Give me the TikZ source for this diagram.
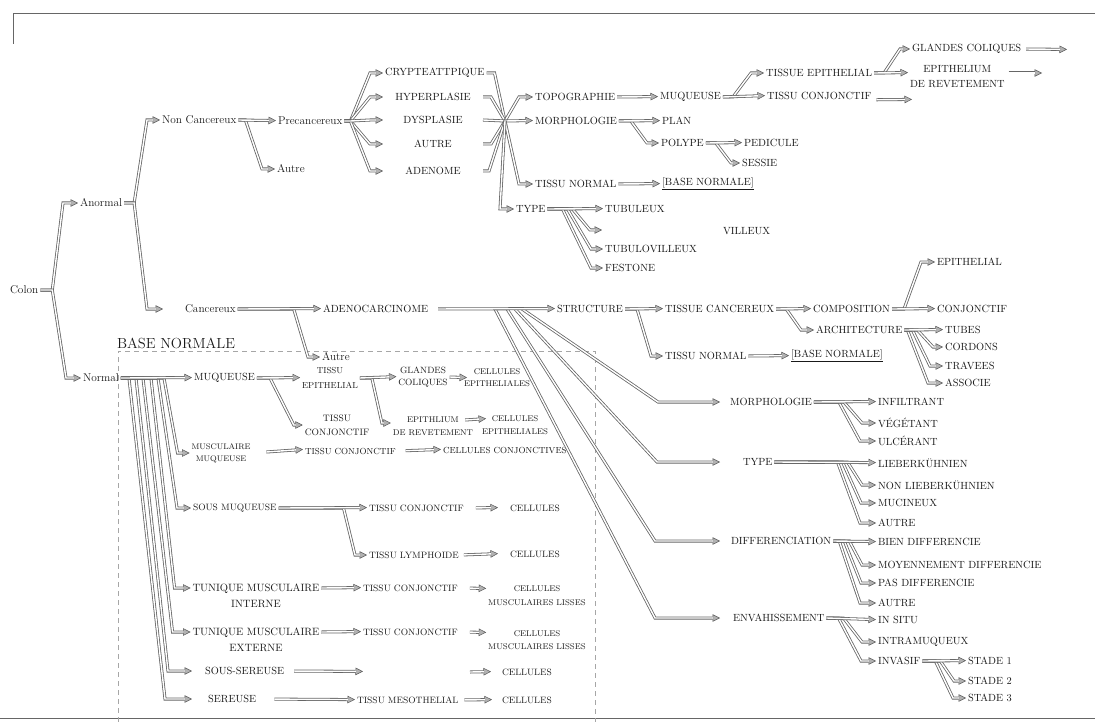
\documentclass[tikz,border=0pt]{standalone}
\usepackage{fontspec}
\usetikzlibrary{arrows.meta}
\newcommand{\myfan}[4]{\draw[dbl] (#1.east) -- ++(#3,0) -- ([xshift=-#4pt]#2.west) -- (#2.west);}
\newcommand{\mystr}[2]{\draw[dbl] (#1.east) -- ([yshift=0.4pt]#2.west);}
\tikzset{
  dbl/.style={draw=black!60, line width=3pt, line join=miter,
    -{Triangle[length=7.5pt,width=7.5pt,fill=black!30,color=black!65,line width=0.5pt]},
    postaction={draw=white, line width=1.4pt, -, shorten >=7pt}},
  dbn/.style={draw=black!60, line width=3pt, postaction={draw=white, line width=1.4pt}},
  L/.style={font=\fontsize{11.3}{13}\selectfont},
  C/.style={font=\fontsize{10.4}{15}\selectfont},
  S/.style={font=\fontsize{9.2}{13}\selectfont},
  XS/.style={font=\fontsize{8.3}{13}\selectfont},
}
\begin{document}
\begin{tikzpicture}[x=1pt,y=-1pt,
  every node/.style={inner sep=2pt,outer sep=0pt,anchor=west,text=black!90}]
\useasboundingbox (0,0) rectangle (1095,722);
% frame
\draw[black!60, line width=0.9pt] (13,44) -- (13,13) -- (1095,13);
\draw[black!60, line width=0.9pt] (0,718) -- (1095,718);
\draw[black!35, dash pattern=on 5pt off 4pt, line width=0.7pt] (118,722) -- (118,351) -- (595,351) -- (595,722);
\node[font=\fontsize{14.6}{16}\selectfont] (bntitle) at (115,343) {BASE NORMALE};

% ---------- nodes : upper tree
\node[L] (colon) at (8,290) {Colon};
\node[L] (anormal) at (78,203) {Anormal};
\node[L] (normal) at (81,378) {Normal};
\node[L] (noncanc) at (160,120) {Non Cancereux};
\node[L] (canc) at (183,309) {Cancereux};
\node[L] (precanc) at (276,121) {Precancereux};
\node[L] (autreA) at (275,169) {Autre};
\node[C,minimum width=100pt] (crypt) at (383,73) {CRYPTEATTPIQUE};
\node[C,minimum width=100pt] (hyper) at (383,97) {HYPERPLASIE};
\node[C,minimum width=100pt] (dysp) at (383,120) {DYSPLASIE};
\node[C,minimum width=100pt] (autreB) at (383,144) {AUTRE};
\node[C,minimum width=100pt] (adenome) at (383,171) {ADENOME};
\coordinate (hub) at (505,121);
\node[C] (topo) at (533,97) {TOPOGRAPHIE};
\node[C] (morph) at (533,121) {MORPHOLOGIE};
\node[C] (tnorm) at (533,184) {TISSU NORMAL};
\node[C] (type) at (514,209) {TYPE};
\node[C] (muq) at (658,97) {MUQUEUSE};
\node[C] (plan) at (660,121) {PLAN};
\node[C] (polype) at (659,143) {POLYPE};
\node[C] (bn1) at (660,184) {\underline{[BASE NORMALE]}};
\node[C] (tissep) at (764,73) {TISSUE EPITHELIAL};
\node[C] (tisscj) at (765,96) {TISSU CONJONCTIF};
\node[C] (pedic) at (742,143) {PEDICULE};
\node[C] (sessie) at (740,163) {SESSIE};
\node[C] (glcol) at (910,49) {GLANDES COLIQUES};
\node[C,align=center] (epirev) at (908,77) {EPITHELIUM\\DE REVETEMENT};
\coordinate (glx) at (1067,49.4);
\coordinate (erx) at (1042,73.4);
\coordinate (tcx) at (912,99.4);
\node[C] (tubul) at (603,209) {TUBULEUX};
\coordinate (tvx) at (602,230);
\node[C] (tubvil) at (603,249) {TUBULOVILLEUX};
\node[C] (feston) at (603,268) {FESTONE};
\node[C] (villeux) at (721,231) {VILLEUX};

% ---------- cancereux
\node[C] (adeno) at (321,309) {ADENOCARCINOME};
\node[L] (autreC) at (320,357) {Autre};
\node[C] (struct) at (555,309) {STRUCTURE};
\node[C] (tcanc) at (663,309) {TISSUE CANCEREUX};
\node[C] (tnorm2) at (663,356) {TISSU NORMAL};
\node[C] (bn2) at (789,356) {\underline{[BASE NORMALE]}};
\node[C] (compo) at (811,309) {COMPOSITION};
\node[C] (archi) at (814,330) {ARCHITECTURE};
\node[C] (epith) at (935,262) {EPITHELIAL};
\node[C] (conj) at (935,309) {CONJONCTIF};
\node[C] (tubes) at (943,330) {TUBES};
\node[C] (cordons) at (943,347) {CORDONS};
\node[C] (travees) at (943,366) {TRAVEES};
\node[C] (associe) at (943,383) {ASSOCIE};
\node[C] (morph2) at (728,402) {MORPHOLOGIE};
\node[C] (type2) at (741,462) {TYPE};
\node[C] (diff) at (729,541) {DIFFERENCIATION};
\node[C] (envah) at (731,618) {ENVAHISSEMENT};
\node[C] (infil) at (876,402) {INFILTRANT};
\node[C] (veget) at (876,423) {VÉGÉTANT};
\node[C] (ulcer) at (876,441) {ULCÉRANT};
\node[C] (lieb) at (876,463) {LIEBERKÜHNIEN};
\node[C] (nonlieb) at (876,485) {NON LIEBERKÜHNIEN};
\node[C] (mucin) at (876,503) {MUCINEUX};
\node[C] (autreD) at (876,523) {AUTRE};
\node[C] (bien) at (876,542) {BIEN DIFFERENCIE};
\node[C] (moyen) at (876,565) {MOYENNEMENT DIFFERENCIE};
\node[C] (pas) at (876,583) {PAS DIFFERENCIE};
\node[C] (autreE) at (876,603) {AUTRE};
\node[C] (insitu) at (876,620) {IN SITU};
\node[C] (intra) at (876,642) {INTRAMUQUEUX};
\node[C] (invas) at (876,661) {INVASIF};
\node[C] (st1) at (966,661) {STADE 1};
\node[C] (st2) at (966,681) {STADE 2};
\node[C] (st3) at (966,698) {STADE 3};

% ---------- base normale
\node[C] (muq2) at (192,378) {MUQUEUSE};
\node[anchor=center,align=center,font=\fontsize{8.1}{12}\selectfont] (musmuq) at (221,453) {MUSCULAIRE\\MUQUEUSE};
\node[S] (sousmuq) at (191,508) {SOUS MUQUEUSE};
\node[anchor=center,align=center,font=\fontsize{10.6}{16}\selectfont] (tunint) at (256,596) {TUNIQUE MUSCULAIRE\\INTERNE};
\node[anchor=center,align=center,font=\fontsize{10.6}{16}\selectfont] (tunext) at (256,640) {TUNIQUE MUSCULAIRE\\EXTERNE};
\node[C] (soussr) at (203,671) {SOUS-SEREUSE};
\node[C] (sereuse) at (206,699) {SEREUSE};
\node[anchor=center,align=center,font=\fontsize{8.7}{15}\selectfont] (tissep2) at (330,378) {TISSU\\EPITHELIAL};
\node[anchor=center,align=center,font=\fontsize{9.3}{14}\selectfont] (tisscj2) at (337,425) {TISSU\\CONJONCTIF};
\node[font=\fontsize{8.8}{12}\selectfont] (tisscj3) at (303,451) {TISSU CONJONCTIF};
\node[font=\fontsize{8.8}{12}\selectfont] (celconj) at (441,450) {CELLULES CONJONCTIVES};
\node[anchor=center,align=center,font=\fontsize{9.1}{12}\selectfont] (glcol2) at (423,377) {GLANDES\\COLIQUES};
\node[XS,anchor=center,align=center] (epirev2) at (433,426) {EPITHLIUM\\DE REVETEMENT};
\node[anchor=center,align=center,font=\fontsize{8.3}{12}\selectfont] (celep1) at (497,378) {CELLULES\\EPITHELIALES};
\node[XS,anchor=center,align=center] (celep2) at (515,425) {CELLULES\\EPITHELIALES};
\node[S] (tisscj4) at (367,508) {TISSU CONJONCTIF};
\node[S] (tisslym) at (367,555) {TISSU LYMPHOIDE};
\node[S] (cel4) at (508,508) {CELLULES};
\node[S] (cel5) at (508,554) {CELLULES};
\node[S] (tisscj5) at (361,588) {TISSU CONJONCTIF};
\node[anchor=center,align=center,font=\fontsize{8.3}{14}\selectfont] (cml1) at (537,596) {CELLULES\\MUSCULAIRES LISSES};
\node[S] (tisscj6) at (361,632) {TISSU CONJONCTIF};
\node[XS,anchor=center,align=center] (cml2) at (537,640) {CELLULES\\MUSCULAIRES LISSES};
\coordinate (ssa) at (363,671.4);
\coordinate (ssb) at (470,672);
\node[S] (cel6) at (500,672) {CELLULES};
\node[S] (tismeso) at (355,700) {TISSU MESOTHELIAL};
\node[S] (cel7) at (500,700) {CELLULES};

% ---------- connectors : upper tree
\myfan{colon}{anormal}{12}{15}
\myfan{colon}{normal}{12}{15}
\myfan{anormal}{noncanc}{10}{13}
\draw[dbl] (anormal.east) -- ++(10,0) -- ([xshift=-36pt]canc.west) -- ([xshift=-20pt]canc.west);
\myfan{noncanc}{autreA}{7}{13}
\mystr{noncanc}{precanc}
\myfan{precanc}{crypt}{6}{13}
\myfan{precanc}{hyper}{6}{13}
\myfan{precanc}{autreB}{6}{13}
\myfan{precanc}{adenome}{6}{13}
\myfan{precanc}{dysp}{6}{13}
\draw[dbn] (crypt.east) -- ++(8,0) -- (hub);
\draw[dbn] (hyper.east) -- ++(8,0) -- (hub);
\draw[dbn] (dysp.east) -- (hub);
\draw[dbn] (autreB.east) -- ++(8,0) -- (hub);
\draw[dbn] (adenome.east) -- ++(6,0) -- (hub);
\draw[dbl] (hub) -- ([xshift=-14pt]topo.west) -- (topo.west);
\draw[dbl] (hub) -- ([yshift=0.5pt]morph.west);
\draw[dbl] (hub) -- ([xshift=-14pt]tnorm.west) -- (tnorm.west);
\draw[dbl] (hub) -- ([xshift=-14pt]type.west) -- (type.west);
\mystr{topo}{muq}
\myfan{muq}{tissep}{10}{13}
\mystr{muq}{tisscj}
\myfan{tissep}{glcol}{10}{10}
\draw[dbl] (tissep.east) -- ([yshift=0.4pt]tissep.east -| epirev.west);
\draw[dbl,shorten <=3pt] (glcol.east) -- (glx);
\draw[dbl,shorten <=2pt] ([yshift=0.4pt]epirev.east |- erx) -- ([yshift=0.4pt]erx);
\draw[dbl,shorten <=3pt] ([yshift=-0.4pt]tisscj.east |- tcx) -- (tcx);
\myfan{morph}{polype}{12}{12}
\mystr{morph}{plan}
\myfan{polype}{sessie}{10}{9}
\mystr{polype}{pedic}
\mystr{tnorm}{bn1}
\draw[dbl] (type.east) -- ++(25,0) -- ([xshift=-12pt]tvx) -- (tvx);
\myfan{type}{tubvil}{20}{12}
\myfan{type}{feston}{15}{12}
\mystr{type}{tubul}

% ---------- connectors : cancereux
\myfan{canc}{autreC}{56}{12}
\mystr{canc}{adeno}
\draw[dbl] ([xshift=-33pt]struct.west) -- ([xshift=-70pt]morph2.west) -- ([xshift=-8pt]morph2.west);
\draw[dbl] ([xshift=-40pt]struct.west) -- ([xshift=-84pt]type2.west) -- ([xshift=-21pt]type2.west);
\draw[dbl] ([xshift=-48pt]struct.west) -- ([xshift=-74pt]diff.west) -- ([xshift=-9pt]diff.west);
\draw[dbl] ([xshift=-60pt]struct.west) -- ([xshift=-76pt]envah.west) -- ([xshift=-11pt]envah.west);
\draw[dbl,shorten <=8pt] (adeno.east) -- ([yshift=0.4pt]struct.west);
\myfan{struct}{tnorm2}{12}{12}
\mystr{struct}{tcanc}
\mystr{tnorm2}{bn2}
\myfan{tcanc}{archi}{10}{13}
\mystr{tcanc}{compo}
\myfan{compo}{epith}{12}{14}
\mystr{compo}{conj}
\myfan{archi}{associe}{3}{15}
\myfan{archi}{travees}{8}{13}
\myfan{archi}{cordons}{13}{10}
\mystr{archi}{tubes}
\myfan{morph2}{ulcer}{25}{16}
\myfan{morph2}{veget}{30}{14}
\mystr{morph2}{infil}
\myfan{type2}{autreD}{63}{16}
\myfan{type2}{mucin}{68}{15}
\myfan{type2}{nonlieb}{73}{14}
\mystr{type2}{lieb}
\myfan{diff}{autreE}{6}{16}
\myfan{diff}{pas}{11}{15}
\myfan{diff}{moyen}{16}{14}
\mystr{diff}{bien}
\myfan{envah}{invas}{12}{15}
\myfan{envah}{intra}{17}{14}
\mystr{envah}{insitu}
\myfan{invas}{st3}{13}{13}
\myfan{invas}{st2}{18}{12}
\mystr{invas}{st1}

% ---------- connectors : base normale
\draw[dbl] (normal.east) -- ++(8,0) -- ([xshift=-41pt]sereuse.west) -- ([xshift=-14pt]sereuse.west);
\draw[dbl] (normal.east) -- ++(15,0) -- ([xshift=-35pt]soussr.west) -- ([xshift=-11pt]soussr.west);
\draw[dbl] (normal.east) -- ++(22,0) -- ([xshift=-18pt,yshift=8pt]tunext.west) -- ([yshift=8pt]tunext.west);
\draw[dbl] (normal.east) -- ++(30,0) -- ([xshift=-16pt,yshift=8pt]tunint.west) -- ([yshift=8pt]tunint.west);
\draw[dbl] (normal.east) -- ++(37,0) -- ([xshift=-14pt]sousmuq.west) -- (sousmuq.west);
\draw[dbl] (normal.east) -- ++(43,0) -- ([xshift=-12pt]musmuq.west) -- (musmuq.west);
\mystr{normal}{muq2}
\myfan{muq2}{tisscj2}{13}{9}
\mystr{muq2}{tissep2}
\draw[dbl,shorten <=14pt] (musmuq.east) -- ([yshift=1.6pt]tisscj3.west);
\draw[dbl,shorten <=8pt] (tisscj3.east) -- ([yshift=0.6pt]celconj.west);
\draw[dbl] (tissep2.east) -- ++(12,0) -- ([xshift=-9pt,yshift=3pt]epirev2.west) -- ([yshift=3pt]epirev2.west);
\mystr{tissep2}{glcol2}
\draw[dbl] (glcol2.east) -- ([xshift=5pt,yshift=0.4pt]celep1.west);
\draw[dbl] ([xshift=-10pt,yshift=6pt]epirev2.east) -- ([xshift=6pt,yshift=6.4pt]celep2.west);
\myfan{sousmuq}{tisslym}{65}{12}
\mystr{sousmuq}{tisscj4}
\draw[dbl,shorten <=10pt] (tisscj4.east) -- ([xshift=-10pt,yshift=0.4pt]cel4.west);
\draw[dbl,shorten <=3pt] (tisslym.east) -- ([xshift=-10pt,yshift=0.4pt]cel5.west);
\draw[dbl] ([yshift=8pt]tunint.east) -- ([yshift=0.4pt]tisscj5.west);
\draw[dbl,shorten <=10pt] (tisscj5.east) -- ([yshift=7.6pt]cml1.west);
\draw[dbl] ([yshift=8pt]tunext.east) -- ([yshift=0.4pt]tisscj6.west);
\draw[dbl,shorten <=10pt] (tisscj6.east) -- ([yshift=7.6pt]cml2.west);
\draw[dbl,shorten <=8pt] (soussr.east) -- (ssa);
\draw[dbl] (ssb) -- ([xshift=-9pt,yshift=0.4pt]cel6.west);
\draw[dbl,shorten <=16pt] (sereuse.east) -- ([yshift=0.4pt]tismeso.west);
\draw[dbl,shorten <=4pt] (tismeso.east) -- ([xshift=-8pt,yshift=0.4pt]cel7.west);
\end{tikzpicture}
\end{document}
